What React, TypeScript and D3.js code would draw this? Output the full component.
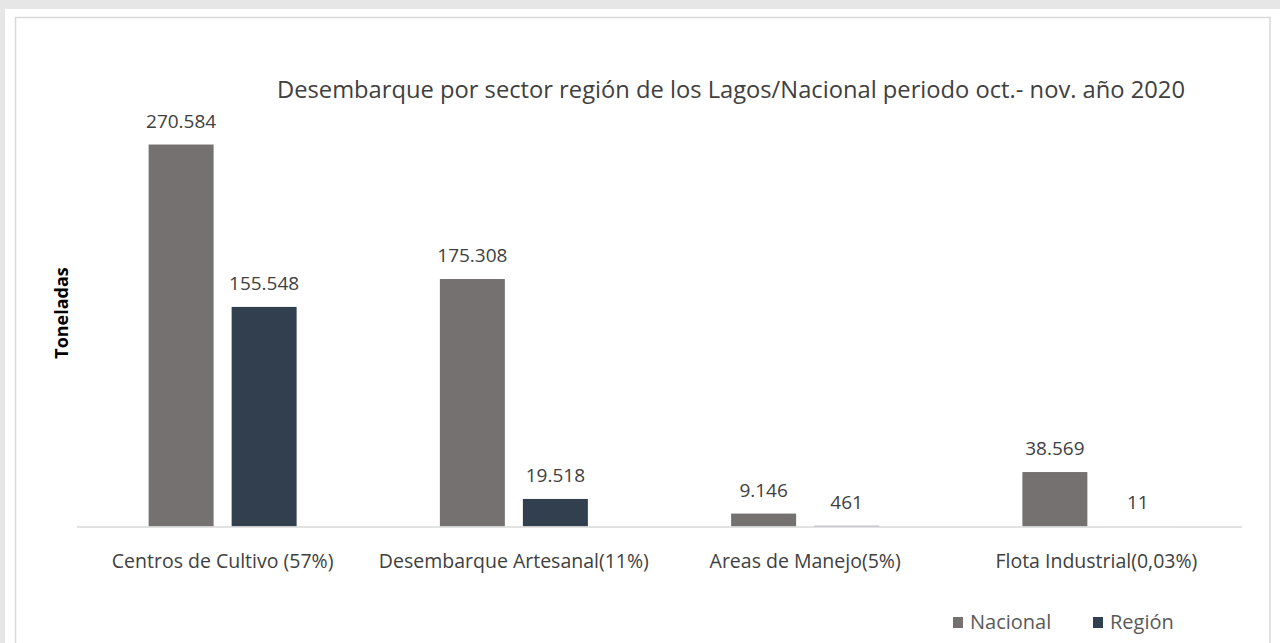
import React from "react";
import * as d3 from "d3";

const categories = [
  "Centros de Cultivo (57%)",
  "Desembarque Artesanal(11%)",
  "Areas de Manejo(5%)",
  "Flota Industrial(0,03%)",
];
const seriesNames = ["Nacional", "Región"];
const nacional = [270584, 175308, 9146, 38569];
const region = [155548, 19518, 461, 11];
const seriesColors = ["#767171", "#323f4f"];
const title = "Desembarque por sector región de los Lagos/Nacional periodo oct.- nov. año 2020";
const yTitle = "Toneladas";

const W = 1280;
const H = 643;
const FONT = "'Open Sans', 'Noto Sans', sans-serif";
const TEXT = "#404040";

const fmt = (v: number) => d3.format(",")(v).replace(/,/g, ".");

export default function App() {
  const plotLeft = 77;
  const plotRight = 1242;
  const baseY = 526.5;
  const y = d3.scaleLinear().domain([0, 300000]).range([baseY, 103]);
  const x0 = d3.scaleBand<string>().domain(categories).range([plotLeft, plotRight]).padding(0);
  const groupW = 148;
  const x1 = d3.scaleBand<string>().domain(seriesNames).range([0, groupW]).paddingInner(0.217).paddingOuter(0);
  const values = [nacional, region];

  return (
    <svg
      width={W}
      height={H}
      style={{ position: "absolute", left: 0, top: 0, display: "block" }}
      fontFamily={FONT}
    >
      <rect x={0} y={0} width={W} height={H} fill="#e6e6e6" />
      <rect x={5} y={9} width={W - 5} height={H - 9} fill="#ffffff" />
      <rect x={15.5} y={17.5} width={1254.5} height={H + 10} fill="#ffffff" stroke="#d9d9d9" strokeWidth={1.5} />

      <text x={277} y={98} fontSize={23.6} fill={TEXT} textLength={908} lengthAdjust="spacingAndGlyphs">
        {title}
      </text>

      <text
        transform={`translate(68,313) rotate(-90)`}
        textAnchor="middle"
        fontSize={18}
        fontWeight="bold"
        fill="#000"
      >
        {yTitle}
      </text>

      {categories.map((c, ci) => {
        const gx = (x0(c) as number) + x0.bandwidth() / 2 - groupW / 2;
        return (
          <g key={c} transform={`translate(${gx},0)`}>
            {seriesNames.map((s, si) => {
              const v = values[si][ci];
              const bx = x1(s) as number;
              const top = y(v);
              return (
                <g key={s}>
                  <rect x={bx} y={top} width={x1.bandwidth()} height={baseY - top} fill={seriesColors[si]} />
                  <text
                    x={bx + x1.bandwidth() / 2}
                    y={top - 17}
                    textAnchor="middle"
                    fontSize={19}
                    fill={TEXT}
                  >
                    {fmt(v)}
                  </text>
                </g>
              );
            })}
          </g>
        );
      })}

      <line x1={plotLeft} x2={plotRight} y1={baseY + 0.5} y2={baseY + 0.5} stroke="#d9d9d9" strokeWidth={1.5} />

      {categories.map((c) => (
        <text
          key={c}
          x={(x0(c) as number) + x0.bandwidth() / 2}
          y={568}
          textAnchor="middle"
          fontSize={19.5}
          fill={TEXT}
        >
          {c}
        </text>
      ))}

      {seriesNames.map((s, i) => {
        const lx = [953, 1093][i];
        return (
          <g key={s}>
            <rect x={lx} y={617} width={10} height={11} fill={seriesColors[i]} />
            <text x={lx + 17} y={629} fontSize={20} fill="#595959">
              {s}
            </text>
          </g>
        );
      })}
    </svg>
  );
}
